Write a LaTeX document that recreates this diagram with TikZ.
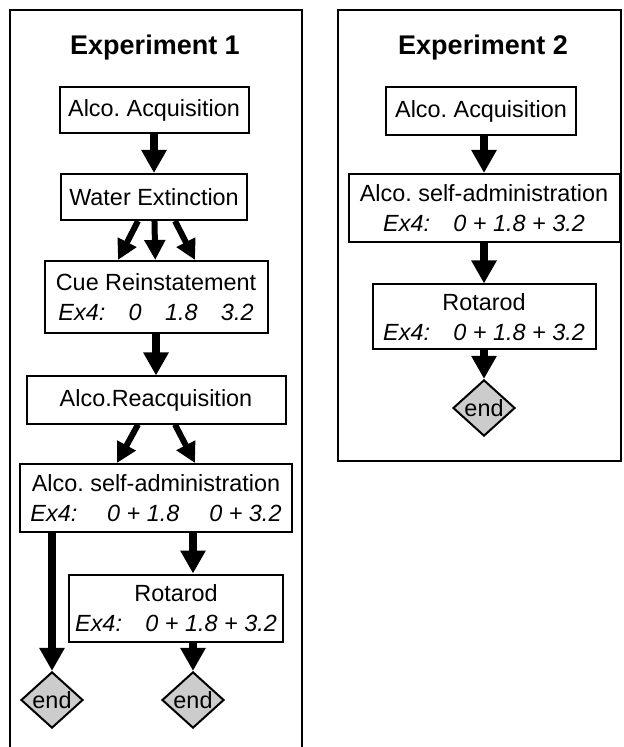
\documentclass[tikz,border=0pt]{standalone}
\usepackage{fontspec}
\setmainfont{Liberation Sans}
\usetikzlibrary{shapes.geometric,arrows.meta}

\begin{document}
\frenchspacing
\begin{tikzpicture}[x=0.5pt, y=-0.5pt,
		font=\fontsize{11.7}{15}\selectfont,
		title/.style={font=\fontsize{13.5}{16}\selectfont\bfseries},
		stage/.style={draw, line width=1pt, fill=white, align=center, inner sep=0pt},
		endnode/.style={draw, line width=1pt, diamond, fill=black!20, inner sep=0pt,
			minimum width=31pt, minimum height=28pt},
		flow/.style={line width=4pt, -{Triangle[length=11.5pt, width=12pt]}},
		split/.style={line width=3pt, -{Triangle[length=10pt, width=10pt]}}]
	% picture size
	\useasboundingbox (0,0) rectangle (624,747);
	% frames
	\draw[line width=1pt] (10,800) -- (10,10) -- (302,10) -- (302,800);
	\draw[line width=1pt] (338,10) rectangle (621,461);
	% experiment 1
	\node[title] (t1) at (155,48) {Experiment 1};
	\node[stage, minimum width=94.5pt, minimum height=23pt] (a1) at (154,110) {Alco. Acquisition};
	\node[stage, minimum width=93pt, minimum height=23pt] (w1) at (154,197) {Water Extinction};
	\node[stage, minimum width=111.5pt, minimum height=36pt] (c1) at (156,297)
		{Cue Reinstatement\\ \textit{Ex4:\quad 0\quad 1.8\quad 3.2}};
	\node[stage, minimum width=129.5pt, minimum height=23.5pt] (r1) at (156,400) {Alco.Reacquisition};
	\node[stage, minimum width=136pt, minimum height=34pt] (s1) at (156,498)
		{Alco. self-administration\\ \textit{Ex4:\quad\ 0 + 1.8\quad\ 0 + 3.2}};
	\node[stage, minimum width=107pt, minimum height=33.5pt] (ro1) at (176,608)
		{Rotarod\\ \textit{Ex4:\quad 0 + 1.8 + 3.2}};
	\node[endnode] (e1a) at (52,700) {end};
	\node[endnode] (e1b) at (193,700) {end};
	% experiment 2
	\node[title] (t2) at (483,48) {Experiment 2};
	\node[stage, minimum width=95pt, minimum height=24pt] (a2) at (481,111) {Alco. Acquisition};
	\node[stage, minimum width=135.5pt, minimum height=34pt] (s2) at (484,208)
		{Alco. self-administration\\ \textit{Ex4:\quad 0 + 1.8 + 3.2}};
	\node[stage, minimum width=111.5pt, minimum height=32.5pt] (ro2) at (484,317)
		{Rotarod\\ \textit{Ex4:\quad 0 + 1.8 + 3.2}};
	\node[endnode] (e2) at (484,408) {end};
	% edges
	\draw[flow] (a1) -- (w1);
	\draw[split] ([xshift=-8pt]w1.south) -- ([xshift=-19pt]c1.north);
	\draw[split] (w1) -- (c1);
	\draw[split] ([xshift=10.5pt]w1.south) -- ([xshift=19.5pt]c1.north);
	\draw[flow] (c1) -- (r1);
	\draw[split] ([xshift=-9pt]r1.south) -- ([xshift=-19.5pt]s1.north);
	\draw[split] ([xshift=9.5pt]r1.south) -- ([xshift=19.5pt]s1.north);
	\draw[flow] (s1.south -| e1a) -- (e1a.north);
	\draw[flow] (s1.south -| e1b) -- (ro1.north -| e1b);
	\draw[flow] (ro1.south -| e1b) -- (e1b.north);
	\draw[flow] (a2.south -| s2) -- (s2.north);
	\draw[flow] (s2) -- (ro2);
	\draw[flow] (ro2) -- (e2);
\end{tikzpicture}
\end{document}
